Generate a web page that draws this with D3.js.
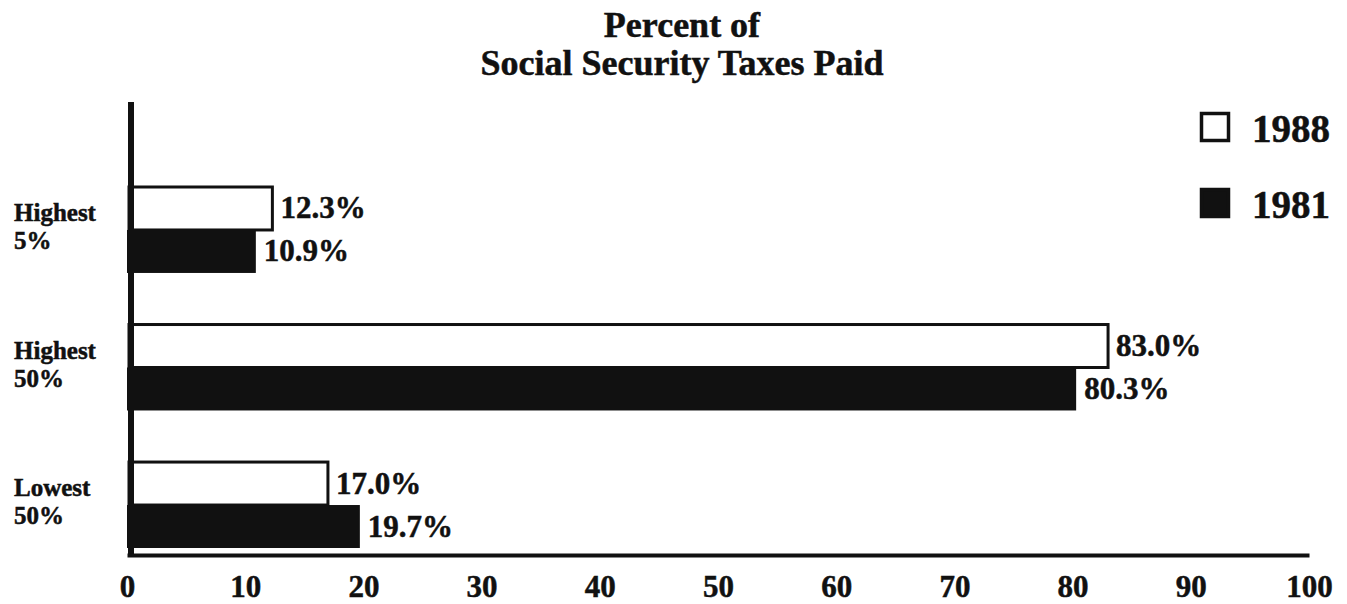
<!DOCTYPE html>
<html>
<head>
<meta charset="utf-8">
<script src="https://cdn.jsdelivr.net/npm/d3@7"></script>
<style>
  html, body { margin: 0; padding: 0; background: #fff; }
  svg { display: block; }
  text { font-family: "Liberation Serif", "Times New Roman", serif; font-weight: bold; fill: #111; stroke: #111; stroke-width: 0.5px; }
</style>
</head>
<body>
<svg id="chart" width="1347" height="604"></svg>
<script>
// ---- data ----
const titleLines = ["Percent of", "Social Security Taxes Paid"];
const categories = ["Highest 5%", "Highest 50%", "Lowest 50%"];
const seriesNames = ["1988", "1981"];
const values1988 = [12.3, 83.0, 17.0];
const values1981 = [10.9, 80.3, 19.7];
const xTickValues = [0, 10, 20, 30, 40, 50, 60, 70, 80, 90, 100];

const seriesValues = { "1988": values1988, "1981": values1981 };
const seriesFill = { "1988": "#ffffff", "1981": "#111111" };

const svg = d3.select("#chart");

// ---- scales ----
const x = d3.scaleLinear().domain([0, 100]).range([127, 1309]);
const y = d3.scaleBand().domain(categories).range([187, 548]).paddingInner(0.375).paddingOuter(0);
const ySub = d3.scaleBand().domain(seriesNames).range([0, y.bandwidth()]).padding(0);

// ---- title ----
svg.append("g").selectAll("text").data(titleLines).join("text")
  .attr("x", 682)
  .attr("y", (d, i) => 37 + i * 38)
  .attr("text-anchor", "middle")
  .attr("font-size", 36)
  .text(d => d);

// ---- bars ----
const rows = [];
categories.forEach((c, i) => {
  seriesNames.forEach(s => rows.push({ cat: c, series: s, value: seriesValues[s][i] }));
});

const barG = svg.append("g");
barG.selectAll("rect").data(rows).join("rect")
  .attr("x", d => d.series === "1988" ? x(0) + 2 : x(0))
  .attr("y", d => y(d.cat) + ySub(d.series))
  .attr("width", d => x(d.value) - x(0) - (d.series === "1988" ? 2 : 0))
  .attr("height", ySub.bandwidth())
  .attr("fill", d => seriesFill[d.series])
  .attr("stroke", "#111")
  .attr("stroke-width", d => d.series === "1988" ? 3 : 0);

// value labels
svg.append("g").selectAll("text").data(rows).join("text")
  .attr("x", d => x(d.value) + 8)
  .attr("y", d => y(d.cat) + ySub(d.series) + ySub.bandwidth() / 2 + 10)
  .attr("font-size", 31)
  .text(d => d.value.toFixed(1) + "%");

// ---- category labels ----
const catG = svg.append("g").selectAll("text").data(categories).join("text")
  .attr("x", 14)
  .attr("font-size", 25);
catG.each(function(d) {
  const parts = d.split(" ");
  const cy = y(d) + y.bandwidth() / 2;
  const t = d3.select(this);
  parts.forEach((p, i) => {
    t.append("tspan").attr("x", 14).attr("y", cy - 9 + i * 28).text(p);
  });
});

// ---- axes ----
svg.append("line")
  .attr("x1", 131).attr("x2", 131)
  .attr("y1", 102).attr("y2", 557)
  .attr("stroke", "#111").attr("stroke-width", 6);

const xAxis = d3.axisBottom(x).tickValues(xTickValues).tickSize(0).tickSizeOuter(0).tickFormat(d3.format("d"));
const xg = svg.append("g").attr("transform", "translate(0,555)").call(xAxis);
xg.select(".domain").attr("stroke", "#111").attr("stroke-width", 4);
xg.selectAll(".tick text")
  .attr("y", 42).attr("dy", 0)
  .attr("font-size", 31)
  .attr("font-family", "Liberation Serif, Times New Roman, serif")
  .attr("font-weight", "bold")
  .attr("fill", "#111");

// ---- legend ----
const legend = svg.append("g").selectAll("g").data(seriesNames).join("g")
  .attr("transform", (d, i) => `translate(1200, ${112 + i * 76})`);
legend.append("rect")
  .attr("x", 1.5).attr("y", 1.5)
  .attr("width", 27).attr("height", 27)
  .attr("fill", d => seriesFill[d])
  .attr("stroke", "#111").attr("stroke-width", 3.5);
legend.append("text")
  .attr("x", 52).attr("y", 30)
  .attr("font-size", 39)
  .text(d => d);
</script>
</body>
</html>
